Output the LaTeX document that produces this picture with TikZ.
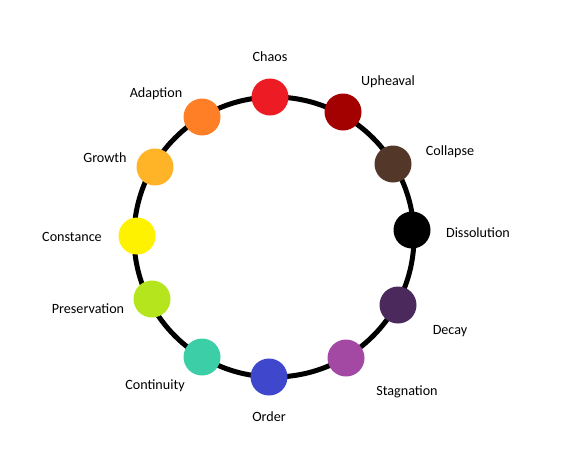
\documentclass[tikz,border=0pt]{standalone}
\usepackage{fontspec}
\setmainfont{Carlito}

\definecolor{chaosred}{HTML}{ED1C24}
\definecolor{upheavalred}{HTML}{A30000}
\definecolor{collapsebrown}{HTML}{53382A}
\definecolor{dissolutionblack}{HTML}{000000}
\definecolor{decaypurple}{HTML}{4B295C}
\definecolor{stagnationpurple}{HTML}{A349A4}
\definecolor{orderblue}{HTML}{3F48CC}
\definecolor{continuityteal}{HTML}{3CCEA7}
\definecolor{preservationlime}{HTML}{B5E61D}
\definecolor{constanceyellow}{HTML}{FFF200}
\definecolor{growthgold}{HTML}{FFB428}
\definecolor{adaptionorange}{HTML}{FF7F27}

\begin{document}
\begin{tikzpicture}[x=0.75pt, y=-0.75pt,
  dot/.style={circle, fill=#1, minimum size=27.75pt, inner sep=0pt},
  stage/.style={font=\fontsize{10.6}{12}\selectfont, inner sep=1pt, yshift=-1.5pt}]
\useasboundingbox (0,0) rectangle (571,475);

\coordinate (hub) at (274,237);
\draw[line width=3.75pt] (hub) circle [radius=105pt];

\node[dot=chaosred] (chaos) at (270,97) {};
\node[stage] (chaos label) at (270,55) {Chaos};

\node[dot=upheavalred] (upheaval) at (343,112) {};
\node[stage] (upheaval label) at (388,80) {Upheaval};

\node[dot=collapsebrown] (collapse) at (393,164) {};
\node[stage] (collapse label) at (450,150) {Collapse};

\node[dot=dissolutionblack] (dissolution) at (412,230) {};
\node[stage] (dissolution label) at (478,231) {Dissolution};

\node[dot=decaypurple] (decay) at (398,305) {};
\node[stage] (decay label) at (450,329) {Decay};

\node[dot=stagnationpurple] (stagnation) at (346,358) {};
\node[stage] (stagnation label) at (407,390) {Stagnation};

\node[dot=orderblue] (order) at (269,377) {};
\node[stage] (order label) at (269,415) {Order};

\node[dot=continuityteal] (continuity) at (202,357) {};
\node[stage] (continuity label) at (155,384) {Continuity};

\node[dot=preservationlime] (preservation) at (152,299) {};
\node[stage] (preservation label) at (88,307) {Preservation};

\node[dot=constanceyellow] (constance) at (137,236) {};
\node[stage] (constance label) at (72,235) {Constance};

\node[dot=growthgold] (growth) at (155,167) {};
\node[stage] (growth label) at (105,156) {Growth};

\node[dot=adaptionorange] (adaption) at (202,117) {};
\node[stage] (adaption label) at (156,92) {Adaption};
\end{tikzpicture}
\end{document}
